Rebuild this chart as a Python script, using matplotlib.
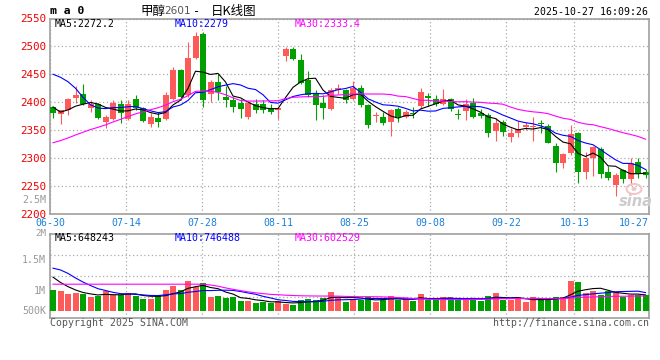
import numpy as np
import pandas as pd
import matplotlib
matplotlib.use("Agg")
import matplotlib.pyplot as plt
from matplotlib.patches import Ellipse

# ---------------- data ----------------
tick_index = [0, 10, 20, 30, 40, 50, 60, 69, 79]
tick_labels = ['06-30', '07-14', '07-28', '08-11', '08-25', '09-08', '09-22', '10-13', '10-27']

opens = [2391, 2378, 2385, 2407, 2415, 2390, 2396, 2365, 2370, 2396,
         2369, 2405, 2389, 2361, 2372, 2369, 2406, 2457, 2412, 2480,
         2522, 2415, 2436, 2409, 2403, 2398, 2374, 2397, 2396, 2390,
         2385, 2483, 2496, 2476, 2439, 2415, 2398, 2387, 2422, 2421,
         2405, 2426, 2394, 2375, 2374, 2365, 2388, 2374, 2381, 2393,
         2410, 2405, 2397, 2405, 2379, 2384, 2398, 2380, 2376, 2348,
         2365, 2338, 2345, 2356, 2355, 2362, 2357, 2321, 2290, 2309,
         2345, 2274, 2299, 2315, 2274, 2252, 2278, 2262, 2293, 2274]
highs = [2393, 2386, 2407, 2428, 2432, 2403, 2398, 2377, 2404, 2404,
         2403, 2412, 2392, 2380, 2382, 2418, 2463, 2459, 2507, 2525,
         2525, 2439, 2450, 2428, 2409, 2405, 2400, 2405, 2403, 2396,
         2392, 2498, 2498, 2486, 2455, 2422, 2412, 2425, 2433, 2424,
         2437, 2431, 2397, 2382, 2382, 2388, 2392, 2385, 2392, 2425,
         2417, 2412, 2424, 2408, 2387, 2405, 2408, 2388, 2380, 2371,
         2367, 2353, 2366, 2365, 2373, 2368, 2361, 2327, 2309, 2359,
         2347, 2311, 2322, 2320, 2285, 2272, 2280, 2300, 2300, 2279]
lows = [2372, 2360, 2377, 2398, 2394, 2382, 2370, 2353, 2368, 2363,
        2367, 2385, 2364, 2356, 2356, 2367, 2403, 2404, 2409, 2478,
        2392, 2400, 2403, 2391, 2383, 2372, 2369, 2381, 2380, 2378,
        2370, 2473, 2476, 2432, 2410, 2367, 2369, 2385, 2415, 2398,
        2403, 2391, 2353, 2365, 2359, 2339, 2365, 2372, 2372, 2390,
        2393, 2393, 2394, 2384, 2369, 2368, 2372, 2371, 2338, 2330,
        2340, 2329, 2337, 2349, 2331, 2344, 2326, 2275, 2281, 2305,
        2255, 2262, 2267, 2263, 2261, 2232, 2254, 2251, 2263, 2264]
closes = [2381, 2385, 2405, 2413, 2397, 2396, 2372, 2374, 2398, 2380,
          2397, 2389, 2366, 2374, 2365, 2412, 2457, 2409, 2480, 2519,
          2404, 2436, 2418, 2404, 2392, 2388, 2398, 2386, 2386, 2382,
          2390, 2496, 2478, 2434, 2412, 2394, 2390, 2421, 2425, 2404,
          2426, 2394, 2359, 2376, 2362, 2385, 2374, 2382, 2379, 2418,
          2408, 2397, 2406, 2387, 2377, 2396, 2374, 2375, 2345, 2362,
          2347, 2345, 2351, 2358, 2357, 2360, 2327, 2290, 2307, 2342,
          2274, 2299, 2320, 2271, 2264, 2270, 2262, 2290, 2271, 2269]
# closes of the 29 sessions before 06-30 (read back from the MA lines)
prior_closes = [2270, 2262, 2255, 2250, 2248, 2252, 2245, 2240, 2238, 2242,
                2250, 2255, 2260, 2262, 2268, 2272, 2278, 2285, 2290, 2388,
                2440, 2485, 2530, 2560, 2530, 2430, 2385, 2380, 2379]

volumes = [853, 812, 688, 717, 676, 564, 593, 812, 647, 659,
           729, 618, 482, 482, 647, 865, 1018, 853, 1224, 976,
           1154, 564, 618, 536, 552, 412, 412, 330, 371, 305,
           400, 276, 247, 441, 482, 441, 536, 783, 552, 371,
           482, 441, 552, 371, 441, 618, 441, 511, 412, 688,
           441, 441, 552, 511, 441, 511, 511, 412, 606, 742,
           441, 441, 482, 371, 552, 441, 441, 577, 577, 1224,
           1195, 742, 812, 647, 812, 758, 552, 647, 647, 647]   # thousands
prior_volumes = [1550, 2100, 2600, 2350, 2000, 1900, 1550, 1400, 1200]

ma_price_labels = ['MA5:2272.2', 'MA10:2279', 'MA30:2333.4']
ma_vol_labels = ['MA5:648243', 'MA10:746488', 'MA30:602529']
price_ticks = [2200, 2250, 2300, 2350, 2400, 2450, 2500, 2550]
vol_axis_labels = ['2.5M', '2M', '1.5M', '1M', '500K']

# ---------------- styling ----------------
RED = '#ff5a5a'
GREEN = '#00a000'
MA_COLORS = ['#000000', '#0000ff', '#ff00ff']
GRID = '#aaaaaa'
FRAME = '#a0a0a0'
MONO = 'DejaVu Sans Mono'
CJK = ['Noto Sans CJK SC', 'DejaVu Sans']

W, H = 660, 360
fig = plt.figure(figsize=(W / 100, H / 100), dpi=100)
fig.patch.set_facecolor('white')


def fx(px):
    return px / W


def fy(py):
    return 1 - py / H


ax = fig.add_axes([fx(50), fy(213.5), 599 / W, 195 / H])
axv = fig.add_axes([fx(50), fy(317.7), 599 / W, 83.4 / H])

n = len(closes)
x = np.arange(n)
o = np.array(opens, float)
c = np.array(closes, float)
hi = np.array(highs, float)
lo = np.array(lows, float)
up = c >= o
cols = [RED if u else GREEN for u in up]

XMIN = -0.4
XMAX = XMIN + 599 / 7.5
grid_pos = [min((7.6 * i - 3) / 7.5, XMAX) for i in tick_index]

# ---- price panel ----
ax.vlines(x, lo, hi, colors=cols, linewidth=0.8, zorder=3)
body_bot = np.minimum(o, c)
body_h = np.maximum(np.abs(c - o), 1.8)
ax.bar(x, body_h, bottom=body_bot, width=0.8, color=cols, linewidth=0, zorder=4)

full_c = pd.Series(prior_closes + closes, dtype=float)
for w, col in zip([5, 10, 30], MA_COLORS):
    ma = full_c.rolling(w).mean().to_numpy()[-n:]
    ax.plot(x, ma, color=col, linewidth=0.8, zorder=5)

ax.set_xlim(XMIN, XMAX)
ax.set_ylim(2200, 2550)
ax.set_yticks(price_ticks)
ax.set_yticklabels([str(t) for t in price_ticks], family=MONO, fontsize=7.8, color='#ee0000')
ax.set_xticks(grid_pos)
ax.set_xticklabels(tick_labels, family=MONO, fontsize=7.1, color='#1a80d8')
ax.get_xticklabels()[-1].set_ha('right')
ax.tick_params(axis='both', length=0)
ax.tick_params(axis='y', pad=3)
ax.tick_params(axis='x', pad=3.5)
ax.grid(True, color=GRID, linestyle=(0, (1, 2)), linewidth=0.9)
for s in ax.spines.values():
    s.set_color(FRAME)
    s.set_linewidth(1.2)

# ---- volume panel ----
vol = np.array(volumes, float) * 1000
axv.bar(x, vol, width=0.8, color=cols, linewidth=0, zorder=3)
full_v = pd.Series(prior_volumes + volumes, dtype=float) * 1000
for w, col in zip([5, 10, 30], MA_COLORS):
    ma = full_v.rolling(w).mean().bfill().to_numpy()[-n:]
    axv.plot(x, ma, color=col, linewidth=0.8, zorder=5)

PXM = 24.3 / 1e6
v_top = (310.7 - 234.3) / PXM
v_bot = -(317.7 - 310.7) / PXM
axv.set_xlim(XMIN, XMAX)
axv.set_ylim(v_bot, v_top)
axv.set_yticks(np.linspace(v_bot, v_top, 5)[1:-1])
axv.set_yticklabels([])
axv.set_xticks(grid_pos)
axv.set_xticklabels([])
axv.tick_params(axis='both', length=0)
axv.grid(True, color=GRID, linestyle=(0, (1, 2)), linewidth=0.9)
for s in axv.spines.values():
    s.set_color(FRAME)
    s.set_linewidth(1.2)

# volume axis labels (as drawn by the source)
for lab, py, fs in zip(vol_axis_labels, [200, 233, 260, 290.7, 310.7],
                       [7.2, 6.6, 7.2, 7.2, 7.2]):
    fig.text(fx(46), fy(py), lab, family=MONO, fontsize=fs, color='#999999',
             ha='right', va='center')

# ---- header texts ----
fig.text(fx(50), fy(11), 'm a 0', family=MONO, fontsize=8.2, weight='bold',
         color='black', ha='left', va='center')
fig.text(fx(140), fy(11.5), '甲醇', family=CJK, fontsize=9, color='black',
         ha='left', va='center')
fig.text(fx(164), fy(11.5), '2601', family='DejaVu Sans', fontsize=7.6, color='#555555',
         ha='left', va='center')
fig.text(fx(193), fy(11.5), '-', family=MONO, fontsize=8.5, color='black',
         ha='left', va='center')
fig.text(fx(211), fy(11.5), '日K线图', family=CJK, fontsize=9, color='black',
         ha='left', va='center')
fig.text(fx(648), fy(11.7), '2025-10-27 16:09:26', family=MONO, fontsize=7.1,
         color='black', ha='right', va='center')

for lab, px, col in zip(ma_price_labels, [55, 174.3, 295], MA_COLORS):
    fig.text(fx(px), fy(24), lab, family=MONO, fontsize=7.1, color=col,
             ha='left', va='center')
for lab, px, col in zip(ma_vol_labels, [54.3, 174.3, 295], MA_COLORS):
    fig.text(fx(px), fy(238.3), lab, family=MONO, fontsize=7.1, color=col,
             ha='left', va='center')

# ---- footer ----
fig.text(fx(50), fy(323.5), 'Copyright 2025 SINA.COM', family=MONO, fontsize=7.1,
         color='#555555', ha='left', va='center')
fig.text(fx(649), fy(323.5), 'http://finance.sina.com.cn', family=MONO, fontsize=7.1,
         color='#555555', ha='right', va='center')

# sina watermark
fig.add_artist(Ellipse((fx(634), fy(189)), 15 / W, 10 / H, transform=fig.transFigure,
                       facecolor='none', edgecolor='#f2c4c4', linewidth=1.4, zorder=6))
fig.add_artist(Ellipse((fx(634), fy(189)), 5 / W, 4 / H, transform=fig.transFigure,
                       facecolor='#f2c4c4', edgecolor='none', zorder=6))
fig.text(fx(636), fy(201), 'sina', family='DejaVu Sans', fontsize=10.5, weight='bold',
         style='italic', color='#cccccc', ha='center', va='center')

fig.savefig('out.png', dpi=100, facecolor='white')
